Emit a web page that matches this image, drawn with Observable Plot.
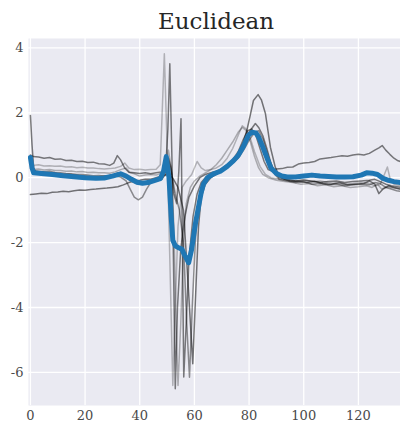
<!DOCTYPE html>
<html>
<head>
<meta charset="utf-8">
<script src="https://cdn.jsdelivr.net/npm/d3@7"></script>
<script src="https://cdn.jsdelivr.net/npm/@observablehq/plot@0.6"></script>
<style>
  html, body { margin: 0; padding: 0; background: #fff; overflow: hidden; }
  #title { box-sizing: border-box; width: 400px; height: 38px; padding-top: 10px; padding-left: 32px;
           text-align: center; font-family: "DejaVu Serif", serif; font-size: 23px; line-height: 23px; color: #262626; }
  #chart svg { display: block; }
</style>
</head>
<body>
<div id="title"></div>
<div id="chart"></div>
<script>
const title = "Euclidean";
const xTicks = [0, 20, 40, 60, 80, 100, 120];
const xGrid = [0, 20, 40, 60, 80, 100, 120, 140];
const yTicks = [-6, -4, -2, 0, 2, 4];

// gray sample series: [index, value]
const seriesA = [[0,1.92],[0.6,1.0],[1.2,0.3],[2,0.15],[4,0.18],[6,0.14],[8,0.15],[10,0.12],[12,0.1],[14,0.11],[16,0.08],[18,0.06],[20,0.05],[22,0.03],[24,0.02],[26,0.04],[28,0.05],[30,0.08],[32,0.15],[34,0.1],[36,-0.05],[38,-0.15],[40,-0.2],[42,-0.15],[44,-0.12],[46,-0.1],[48,-0.05],[49.5,0.2],[50.5,0.6],[51.5,0.3],[52.5,-0.5],[53.5,-0.8],[54.3,0.2],[55.1,1.82],[55.6,-2],[56.1,-6.14],[57,-4.5],[58,-2.5],[59.5,-1.2],[61,-0.5],[62.5,-0.15],[64,0.0],[66,0.1],[68,0.18],[70,0.25],[72,0.35],[74,0.5],[76,0.7],[78,1.0],[80,1.4],[82.3,1.67],[83.5,1.55],[85,1.3],[86.5,0.9],[88,0.45],[89.5,0.15],[91,0.0],[94,-0.05],[97,-0.1],[100,-0.08],[103,-0.1],[106,-0.15],[109,-0.12],[112,-0.1],[115,-0.15],[118,-0.12],[121,-0.1],[124,-0.08],[126,-0.05],[128,-0.12],[130,-0.2],[132,-0.25],[135.4,-0.3]];
const seriesB = [[0,0.7],[1,0.65],[3,0.64],[5,0.6],[7,0.62],[9,0.57],[11,0.58],[13,0.53],[15,0.54],[17,0.5],[19,0.51],[21,0.47],[23,0.48],[25,0.43],[27,0.42],[29,0.38],[30.5,0.45],[31.8,0.68],[33,0.55],[34.5,0.3],[36,0.17],[38,0.15],[40,0.13],[42,0.15],[44,0.12],[46,0.15],[48,0.18],[49.5,0.3],[50.3,1.5],[51,3.51],[51.8,0.5],[52.5,-3.5],[53,-6.5],[53.8,-4],[55,-2.2],[56.5,-1.2],[58,-0.6],[60,-0.25],[62,0.0],[64,0.1],[66,0.15],[68,0.2],[70,0.28],[72,0.4],[74,0.55],[76,0.8],[78,1.2],[79.5,1.45],[81,1.5],[82.5,1.3],[84,0.9],[85.5,0.5],[87,0.25],[88.5,0.2],[90,0.27],[92,0.28],[94,0.32],[96,0.33],[98,0.42],[100,0.45],[102,0.47],[104,0.5],[106,0.58],[108,0.6],[110,0.62],[112,0.65],[114,0.68],[116,0.66],[118,0.7],[120,0.72],[122,0.7],[124,0.75],[126,0.85],[127.5,0.92],[128.7,0.99],[130,0.85],[131.5,0.72],[133,0.6],[134.5,0.52],[135.4,0.5]];
const seriesC = [[0,-0.52],[2,-0.5],[4,-0.48],[6,-0.49],[8,-0.45],[10,-0.44],[12,-0.42],[14,-0.43],[16,-0.4],[18,-0.38],[20,-0.39],[22,-0.36],[24,-0.35],[26,-0.33],[28,-0.32],[30,-0.3],[32,-0.28],[34,-0.22],[36,-0.15],[38,-0.1],[40,-0.08],[42,-0.05],[44,-0.05],[46,0.0],[48,0.05],[50,0.1],[52,0.0],[54,-0.3],[56,-1.0],[57.5,-3.0],[59.4,-5.73],[60.5,-3.5],[61.5,-1.5],[62.5,-0.6],[64,-0.2],[66,0.0],[68,0.1],[70,0.2],[72,0.35],[74,0.5],[76,0.75],[78,1.1],[79.3,1.5],[80.5,1.95],[81.6,2.38],[83.3,2.56],[84.5,2.4],[86,1.97],[87,1.4],[87.8,0.94],[89.6,0.32],[91,0.05],[93,-0.05],[95,-0.1],[98,-0.12],[101,-0.15],[104,-0.12],[107,-0.18],[110,-0.2],[113,-0.15],[116,-0.22],[119,-0.2],[122,-0.18],[124,-0.1],[126,-0.2],[127.5,-0.49],[129,-0.35],[131,-0.25],[133,-0.3],[135.4,-0.35]];
const seriesD = [[0,0.3],[1,0.22],[3,0.2],[5,0.18],[7,0.2],[9,0.16],[11,0.15],[13,0.13],[15,0.12],[17,0.1],[19,0.1],[21,0.08],[23,0.06],[25,0.07],[27,0.05],[29,0.06],[31,0.05],[33,0.02],[35,-0.1],[36.5,-0.35],[38,-0.6],[39.5,-0.68],[41,-0.6],[42.5,-0.35],[44,-0.15],[46,-0.08],[48,-0.05],[49.5,0.1],[50.5,0.5],[51.5,0.2],[53,-0.5],[54.5,-1.0],[56,-2.0],[57.2,-4.5],[58.2,-6.15],[59.2,-4],[60.3,-2],[61.3,-0.8],[62.5,-0.3],[64,-0.05],[66,0.08],[68,0.15],[70,0.22],[72,0.3],[74,0.45],[76,0.6],[78,0.85],[80,1.15],[82,1.4],[83.5,1.45],[85,1.2],[86.5,0.8],[88,0.4],[89.5,0.1],[91,-0.05],[94,-0.1],[97,-0.15],[100,-0.12],[103,-0.2],[106,-0.18],[109,-0.22],[112,-0.2],[115,-0.25],[118,-0.22],[121,-0.2],[124,-0.22],[126,-0.15],[128,-0.18],[130,-0.3],[132,-0.35],[134,-0.4],[135.4,-0.42]];
const seriesE = [[0,0.45],[1,0.38],[3,0.4],[5,0.36],[7,0.37],[9,0.35],[11,0.36],[13,0.33],[15,0.34],[17,0.31],[19,0.32],[21,0.3],[23,0.3],[25,0.28],[27,0.27],[29,0.28],[31,0.3],[33,0.35],[34.5,0.45],[36,0.3],[38,0.25],[40,0.26],[42,0.24],[44,0.25],[46,0.26],[47.5,0.4],[49,3.82],[50,1.0],[51,-2.5],[52.1,-6.4],[53,-4],[54,-1.5],[55.5,-0.3],[57,-0.1],[59,0.1],[61,0.5],[62.5,0.3],[64,0.22],[66,0.25],[68,0.3],[70,0.4],[72,0.6],[74,0.9],[76,1.3],[77.5,1.6],[79,1.5],[80.5,1.2],[82,0.8],[84,0.35],[86,0.1],[88,0.0],[91,-0.05],[94,-0.08],[97,-0.1],[100,-0.06],[103,-0.12],[106,-0.1],[109,-0.15],[112,-0.18],[115,-0.2],[118,-0.18],[121,-0.15],[124,-0.18],[126,-0.25],[128,-0.2],[129.5,0.1],[130.6,0.33],[131.5,0.0],[133,-0.2],[135.4,-0.25]];
const seriesF = [[0,0.35],[1,0.25],[3,0.27],[5,0.24],[7,0.25],[9,0.22],[11,0.22],[13,0.2],[15,0.21],[17,0.18],[19,0.19],[21,0.16],[23,0.17],[25,0.15],[27,0.15],[29,0.14],[31,0.18],[33,0.25],[35,0.3],[36.5,0.15],[38,0.12],[40,0.05],[42,0.08],[44,0.1],[46,0.08],[48,0.15],[49.5,0.4],[50.5,0.85],[51.5,0.3],[52.5,-1.5],[53.3,-4.5],[54,-6.4],[55,-4.5],[56,-2],[57,-0.8],[58.5,-0.3],[60,-0.1],[62,0.05],[64,0.15],[66,0.25],[68,0.4],[70,0.6],[72,0.85],[74,1.1],[76,1.4],[77.5,1.55],[79,1.45],[80.5,1.1],[82,0.65],[83.5,0.3],[85,0.1],[87,0.0],[90,-0.08],[93,-0.12],[96,-0.15],[99,-0.2],[102,-0.18],[105,-0.25],[108,-0.22],[111,-0.28],[114,-0.25],[117,-0.3],[120,-0.28],[123,-0.25],[125,-0.3],[127,-0.2],[128.5,-0.35],[130,-0.28],[132,-0.3],[135.4,-0.35]];
const grayOpacity = [0.5, 0.5, 0.52, 0.42, 0.25, 0.28];

// barycenter (blue)
const barycenter = [[0,0.62],[0.6,0.3],[1.2,0.15],[4,0.13],[8,0.1],[12,0.06],[16,0.03],[20,0.0],[24,-0.02],[27,-0.01],[30,0.05],[33,0.12],[35,0.05],[37,-0.05],[39,-0.14],[41,-0.17],[43,-0.15],[45,-0.1],[47.5,-0.03],[48.7,0.2],[49.7,0.65],[50.7,0.0],[51.5,-1.2],[52.1,-1.93],[53,-2.1],[54,-2.15],[55.4,-2.2],[56.5,-2.4],[57.9,-2.62],[59,-2.2],[60.4,-1.4],[61.5,-0.9],[62.5,-0.45],[63.3,-0.2],[64.8,0.0],[67,0.12],[69.5,0.2],[72,0.35],[74,0.5],[76,0.68],[78,0.98],[79.7,1.3],[81,1.4],[82.5,1.38],[83.5,1.25],[85,0.95],[86.6,0.6],[88,0.3],[90,0.13],[92,0.05],[94,0.02],[97,0.02],[100,0.05],[103,0.08],[106,0.05],[109,0.04],[112,0.02],[115,0.02],[118,0.03],[121,0.08],[123,0.15],[125,0.14],[127,0.1],[129,-0.02],[131,-0.08],[133,-0.12],[135.4,-0.15]];

document.getElementById("title").textContent = title;

const grays = [seriesA, seriesB, seriesC, seriesD, seriesE, seriesF];

const marks = [
  Plot.frame({fill: "#EAEAF2", stroke: null}),
  Plot.gridX(xGrid, {stroke: "white", strokeOpacity: 1, strokeWidth: 1.3}),
  Plot.gridY(yTicks, {stroke: "white", strokeOpacity: 1, strokeWidth: 1.3}),
  ...grays.map((s, i) => Plot.line(s, {x: d => d[0], y: d => d[1], stroke: "#000", strokeOpacity: grayOpacity[i], strokeWidth: 1.5, clip: true})),
  Plot.line(barycenter, {x: d => d[0], y: d => d[1], stroke: "#1f77b4", strokeWidth: 5, strokeLinejoin: "round", strokeLinecap: "round", clip: true}),
  Plot.axisX(xTicks, {tickSize: 0, tickPadding: 5, tickFormat: d => String(d), label: null}),
  Plot.axisY(yTicks, {tickSize: 0, tickPadding: 5, tickFormat: d => String(d), label: null})
];

const chart = Plot.plot({
  width: 400,
  height: 388,
  marginLeft: 28,
  marginRight: 0,
  marginTop: 0,
  marginBottom: 21,
  x: {domain: [-0.7, 135.4]},
  y: {domain: [-7.02, 4.29]},
  style: {fontFamily: "DejaVu Serif", fontSize: "13px", color: "#4a4a4a", background: "white"},
  marks
});
document.getElementById("chart").appendChild(chart);
</script>
</body>
</html>
